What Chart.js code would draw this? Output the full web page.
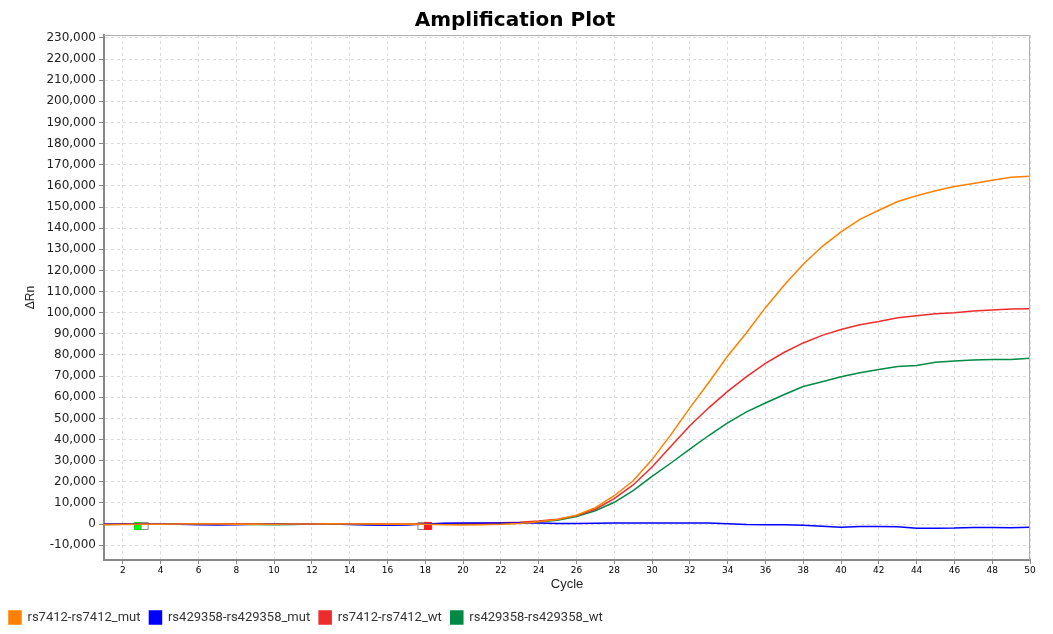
<!DOCTYPE html>
<html>
<head>
<meta charset="utf-8">
<script src="https://cdn.jsdelivr.net/npm/chart.js@4"></script>
<style>
  html, body { margin: 0; padding: 0; background: #fff; }
  #wrap { width: 1053px; height: 634px; position: relative; }
</style>
</head>
<body>
<div id="wrap"><canvas id="ampChart"></canvas></div>
<script>
// Cycles and delta Rn values
const cycles = [1, 2, 3, 4, 5, 6, 7, 8, 9, 10, 11, 12, 13, 14, 15, 16, 17, 18, 19, 20, 21, 22, 23, 24, 25,
  26, 27, 28, 29, 30, 31, 32, 33, 34, 35, 36, 37, 38, 39, 40, 41, 42, 43, 44, 45, 46, 47, 48, 49, 50];

const rs7412Mut = [-300, -200, -100, -100, 0, 100, 0, -100, 0, -100, 0, 0, 100, 0, 0, -100, 0, -100, -300, -400, -300, -100, 300, 1100, 2200,
  4200, 7800, 13400, 20500, 30500, 42300, 55000, 67000, 79500, 90500, 102400, 113100, 122900, 131300, 138200, 144200, 148500, 152600, 155300, 157700, 159700, 161100, 162700, 164100, 164600];

const rs429358Mut = [-100, -100, -100, -100, -100, -300, -400, -300, -100, 0, 0, 0, 0, -200, -400, -500, -400, 0, 400, 500, 500, 500, 500, 500, 300,
  300, 400, 500, 500, 500, 500, 500, 500, 100, -200, -300, -300, -600, -1000, -1500, -1200, -1200, -1300, -2000, -2000, -1900, -1600, -1600, -1700, -1500];

const rs7412Wt = [-100, 0, 0, 0, 0, 0, 0, 0, 0, 0, 0, 0, 0, 0, 0, 0, 0, 0, 300, 300, 400, 600, 900, 1400, 2300,
  4000, 7000, 12000, 18500, 27000, 36800, 46500, 55000, 62800, 69800, 76000, 81300, 85700, 89300, 92100, 94300, 95800, 97600, 98600, 99500, 100000, 100800, 101300, 101700, 101900];

const rs429358Wt = [-200, -100, -100, -100, -100, 0, -100, -100, -200, -300, -200, 0, 0, -100, -200, -300, -200, 0, 200, 0, 0, 200, 500, 1000, 1800,
  3600, 6300, 10300, 15800, 22600, 28900, 35500, 41900, 47900, 53100, 57300, 61300, 65100, 67300, 69700, 71600, 73100, 74600, 75000, 76600, 77100, 77600, 77900, 77900, 78400];

// baseline start / end markers
const markerCycles = [2.8, 3.15, 17.8, 18.15];
const markerValues = [-900, -900, -900, -900];
const markerFill = ['#00ff00', '#ffffff', '#ffffff', '#ff1a1a'];
const markerEdge = ['#00e000', '#888888', '#888888', '#ff1a1a'];

// tick labels
const xTickValues = [2, 4, 6, 8, 10, 12, 14, 16, 18, 20, 22, 24, 26, 28, 30, 32, 34, 36, 38, 40, 42, 44, 46, 48, 50];
const yTickValues = [-10000, 0, 10000, 20000, 30000, 40000, 50000, 60000, 70000, 80000, 90000, 100000, 110000, 120000,
  130000, 140000, 150000, 160000, 170000, 180000, 190000, 200000, 210000, 220000, 230000];

const seriesNames = ['rs7412-rs7412_mut', 'rs429358-rs429358_mut', 'rs7412-rs7412_wt', 'rs429358-rs429358_wt'];
const seriesColors = ['#ff8000', '#0000ff', '#ee2c2c', '#008a44'];
const seriesValues = [rs7412Mut, rs429358Mut, rs7412Wt, rs429358Wt];

// light frame around the plot (top / right edges)
const frame = {
  id: 'frame',
  afterDraw(chart) {
    const a = chart.chartArea, ctx = chart.ctx;
    ctx.save();
    ctx.strokeStyle = '#b0b0b0';
    ctx.lineWidth = 1;
    ctx.beginPath();
    ctx.moveTo(a.left, a.top + 0.5);
    ctx.lineTo(a.right - 0.5, a.top + 0.5);
    ctx.lineTo(a.right - 0.5, a.bottom);
    ctx.stroke();
    ctx.restore();
  }
};

const datasets = seriesNames.map((name, i) => ({
  label: name,
  data: cycles.map((c, k) => ({ x: c, y: seriesValues[i][k] })),
  borderColor: seriesColors[i],
  backgroundColor: seriesColors[i],
  borderWidth: 1.5,
  pointRadius: 0,
  tension: 0,
  fill: false
}));

datasets.push({
  label: 'markers',
  type: 'scatter',
  data: markerCycles.map((c, k) => ({ x: c, y: markerValues[k] })),
  pointStyle: 'rect',
  pointRadius: 5,
  backgroundColor: markerFill,
  borderColor: markerEdge,
  borderWidth: 1
});

new Chart(document.getElementById('ampChart'), {
  type: 'line',
  data: { datasets: datasets },
  plugins: [frame],
  options: {
    responsive: true, maintainAspectRatio: false, animation: false,
    layout: { padding: { left: 0, right: 23, top: 0, bottom: 0 } },
    plugins: {
      title: {
        display: true, text: 'Amplification Plot', color: '#000',
        font: { family: 'DejaVu Sans', size: 20, weight: 'bold' },
        padding: { top: 9, bottom: 2 }
      },
      legend: {
        position: 'bottom', align: 'start',
        labels: {
          filter: item => item.text !== 'markers',
          boxWidth: 12, boxHeight: 13, padding: 9, color: '#333',
          font: { family: 'Roboto', size: 13 }
        }
      },
      tooltip: { enabled: false }
    },
    scales: {
      x: {
        type: 'linear', min: 1, max: 50,
        afterBuildTicks: s => { s.ticks = xTickValues.map(v => ({ value: v })); },
        afterFit: s => { s.height = 42; },
        ticks: { color: '#000', padding: 1, maxRotation: 0, autoSkip: false, font: { family: 'DejaVu Sans', size: 9 } },
        grid: { color: '#dcdcdc', tickColor: '#888', tickLength: 4 },
        border: { color: '#888', width: 2, dash: [3, 3] },
        title: { display: true, text: 'Cycle', color: '#222', font: { family: 'Liberation Sans', size: 13 }, padding: { top: 0, bottom: 10 } }
      },
      y: {
        min: -17000, max: 231400,
        afterBuildTicks: s => { s.ticks = yTickValues.map(v => ({ value: v })); },
        afterFit: s => { s.width = 104; },
        ticks: { color: '#222', padding: 3, autoSkip: false, font: { family: 'DejaVu Sans', size: 12 },
          callback: v => v.toLocaleString('en-US') },
        grid: { color: '#dcdcdc', tickColor: '#888', tickLength: 5 },
        border: { color: '#888', width: 2, dash: [3, 3] },
        title: { display: true, text: 'ΔRn', color: '#222', font: { family: 'Liberation Sans', size: 12 }, padding: { top: 23, bottom: 0 } }
      }
    }
  }
});
</script>
</body>
</html>
